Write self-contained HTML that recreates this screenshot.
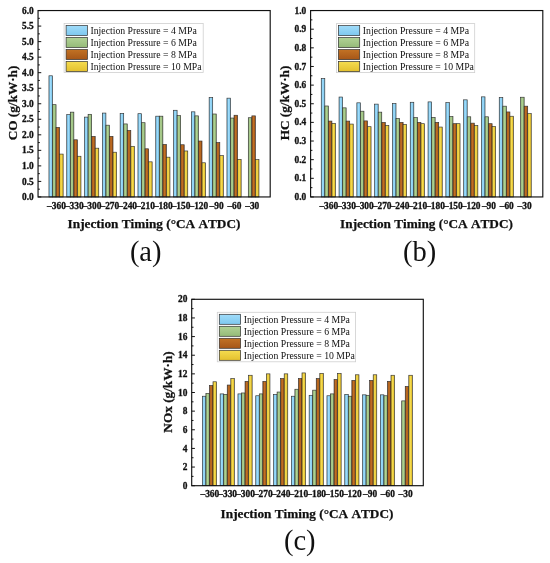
<!DOCTYPE html>
<html><head><meta charset="utf-8"><title>Emissions vs injection timing</title>
<style>html,body{margin:0;padding:0;background:#fff;}body{width:550px;height:563px;overflow:hidden;}svg{display:block;will-change:transform;}text{font-family:"Liberation Serif",serif;fill:#111;opacity:0.999;font-kerning:none;}.tk{font-weight:bold;font-size:9.40px;stroke:#111;stroke-width:0.3px;}.lg{font-size:9.75px;}.ax{font-weight:bold;font-size:13.25px;stroke:#111;stroke-width:0.25px;}.cap{font-size:28.50px;}</style></head><body>
<svg width="550" height="563" viewBox="0 0 550 563">
<defs>
<linearGradient id="gb" x1="0" y1="0" x2="1" y2="0"><stop offset="0" stop-color="#6fc0ea"/><stop offset="0.45" stop-color="#a0dcfa"/><stop offset="1" stop-color="#6fc0ea"/></linearGradient>
<linearGradient id="lb" x1="0" y1="0" x2="0" y2="1"><stop offset="0" stop-color="#a0dcfa"/><stop offset="0.5" stop-color="#8fd2f4"/><stop offset="1" stop-color="#7ec8ef"/></linearGradient>
<linearGradient id="gg" x1="0" y1="0" x2="1" y2="0"><stop offset="0" stop-color="#8ab06c"/><stop offset="0.45" stop-color="#b0d295"/><stop offset="1" stop-color="#8ab06c"/></linearGradient>
<linearGradient id="lg" x1="0" y1="0" x2="0" y2="1"><stop offset="0" stop-color="#b0d295"/><stop offset="0.5" stop-color="#a3c687"/><stop offset="1" stop-color="#95ba78"/></linearGradient>
<linearGradient id="gr" x1="0" y1="0" x2="1" y2="0"><stop offset="0" stop-color="#9a4a12"/><stop offset="0.45" stop-color="#c27224"/><stop offset="1" stop-color="#9a4a12"/></linearGradient>
<linearGradient id="lr" x1="0" y1="0" x2="0" y2="1"><stop offset="0" stop-color="#c27224"/><stop offset="0.5" stop-color="#b4641e"/><stop offset="1" stop-color="#a65617"/></linearGradient>
<linearGradient id="gy" x1="0" y1="0" x2="1" y2="0"><stop offset="0" stop-color="#dcb420"/><stop offset="0.45" stop-color="#f5dc50"/><stop offset="1" stop-color="#dcb420"/></linearGradient>
<linearGradient id="ly" x1="0" y1="0" x2="0" y2="1"><stop offset="0" stop-color="#f5dc50"/><stop offset="0.5" stop-color="#ecce3f"/><stop offset="1" stop-color="#e4c02e"/></linearGradient>
</defs>
<rect x="0" y="0" width="550" height="563" fill="#ffffff"/>
<g id="chart-a">
<rect x="48.95" y="75.79" width="3.55" height="121.16" fill="url(#gb)" stroke="#303030" stroke-width="0.65"/>
<rect x="52.50" y="104.68" width="3.55" height="92.27" fill="url(#gg)" stroke="#303030" stroke-width="0.65"/>
<rect x="56.05" y="127.36" width="3.55" height="69.59" fill="url(#gr)" stroke="#303030" stroke-width="0.65"/>
<rect x="59.60" y="154.08" width="3.55" height="42.87" fill="url(#gy)" stroke="#303030" stroke-width="0.65"/>
<rect x="66.75" y="114.62" width="3.55" height="82.33" fill="url(#gb)" stroke="#303030" stroke-width="0.65"/>
<rect x="70.30" y="112.14" width="3.55" height="84.81" fill="url(#gg)" stroke="#303030" stroke-width="0.65"/>
<rect x="73.85" y="139.79" width="3.55" height="57.16" fill="url(#gr)" stroke="#303030" stroke-width="0.65"/>
<rect x="77.40" y="156.25" width="3.55" height="40.70" fill="url(#gy)" stroke="#303030" stroke-width="0.65"/>
<rect x="84.55" y="117.11" width="3.55" height="79.84" fill="url(#gb)" stroke="#303030" stroke-width="0.65"/>
<rect x="88.10" y="114.31" width="3.55" height="82.64" fill="url(#gg)" stroke="#303030" stroke-width="0.65"/>
<rect x="91.65" y="136.37" width="3.55" height="60.58" fill="url(#gr)" stroke="#303030" stroke-width="0.65"/>
<rect x="95.20" y="148.18" width="3.55" height="48.77" fill="url(#gy)" stroke="#303030" stroke-width="0.65"/>
<rect x="102.35" y="113.07" width="3.55" height="83.88" fill="url(#gb)" stroke="#303030" stroke-width="0.65"/>
<rect x="105.90" y="125.19" width="3.55" height="71.76" fill="url(#gg)" stroke="#303030" stroke-width="0.65"/>
<rect x="109.45" y="136.37" width="3.55" height="60.58" fill="url(#gr)" stroke="#303030" stroke-width="0.65"/>
<rect x="113.00" y="152.21" width="3.55" height="44.74" fill="url(#gy)" stroke="#303030" stroke-width="0.65"/>
<rect x="120.15" y="113.38" width="3.55" height="83.57" fill="url(#gb)" stroke="#303030" stroke-width="0.65"/>
<rect x="123.70" y="123.94" width="3.55" height="73.01" fill="url(#gg)" stroke="#303030" stroke-width="0.65"/>
<rect x="127.25" y="130.47" width="3.55" height="66.48" fill="url(#gr)" stroke="#303030" stroke-width="0.65"/>
<rect x="130.80" y="146.31" width="3.55" height="50.64" fill="url(#gy)" stroke="#303030" stroke-width="0.65"/>
<rect x="137.95" y="113.69" width="3.55" height="83.26" fill="url(#gb)" stroke="#303030" stroke-width="0.65"/>
<rect x="141.50" y="122.70" width="3.55" height="74.25" fill="url(#gg)" stroke="#303030" stroke-width="0.65"/>
<rect x="145.05" y="148.80" width="3.55" height="48.15" fill="url(#gr)" stroke="#303030" stroke-width="0.65"/>
<rect x="148.60" y="161.84" width="3.55" height="35.11" fill="url(#gy)" stroke="#303030" stroke-width="0.65"/>
<rect x="155.75" y="116.18" width="3.55" height="80.77" fill="url(#gb)" stroke="#303030" stroke-width="0.65"/>
<rect x="159.30" y="116.18" width="3.55" height="80.77" fill="url(#gg)" stroke="#303030" stroke-width="0.65"/>
<rect x="162.85" y="144.45" width="3.55" height="52.50" fill="url(#gr)" stroke="#303030" stroke-width="0.65"/>
<rect x="166.40" y="157.18" width="3.55" height="39.77" fill="url(#gy)" stroke="#303030" stroke-width="0.65"/>
<rect x="173.55" y="110.27" width="3.55" height="86.68" fill="url(#gb)" stroke="#303030" stroke-width="0.65"/>
<rect x="177.10" y="115.56" width="3.55" height="81.39" fill="url(#gg)" stroke="#303030" stroke-width="0.65"/>
<rect x="180.65" y="144.76" width="3.55" height="52.19" fill="url(#gr)" stroke="#303030" stroke-width="0.65"/>
<rect x="184.20" y="150.97" width="3.55" height="45.98" fill="url(#gy)" stroke="#303030" stroke-width="0.65"/>
<rect x="191.35" y="111.83" width="3.55" height="85.12" fill="url(#gb)" stroke="#303030" stroke-width="0.65"/>
<rect x="194.90" y="115.87" width="3.55" height="81.08" fill="url(#gg)" stroke="#303030" stroke-width="0.65"/>
<rect x="198.45" y="141.03" width="3.55" height="55.92" fill="url(#gr)" stroke="#303030" stroke-width="0.65"/>
<rect x="202.00" y="162.78" width="3.55" height="34.17" fill="url(#gy)" stroke="#303030" stroke-width="0.65"/>
<rect x="209.15" y="97.54" width="3.55" height="99.41" fill="url(#gb)" stroke="#303030" stroke-width="0.65"/>
<rect x="212.70" y="114.00" width="3.55" height="82.95" fill="url(#gg)" stroke="#303030" stroke-width="0.65"/>
<rect x="216.25" y="142.58" width="3.55" height="54.37" fill="url(#gr)" stroke="#303030" stroke-width="0.65"/>
<rect x="219.80" y="155.63" width="3.55" height="41.32" fill="url(#gy)" stroke="#303030" stroke-width="0.65"/>
<rect x="226.95" y="98.16" width="3.55" height="98.79" fill="url(#gb)" stroke="#303030" stroke-width="0.65"/>
<rect x="230.50" y="118.04" width="3.55" height="78.91" fill="url(#gg)" stroke="#303030" stroke-width="0.65"/>
<rect x="234.05" y="115.24" width="3.55" height="81.71" fill="url(#gr)" stroke="#303030" stroke-width="0.65"/>
<rect x="237.60" y="159.36" width="3.55" height="37.59" fill="url(#gy)" stroke="#303030" stroke-width="0.65"/>
<rect x="248.30" y="117.73" width="3.55" height="79.22" fill="url(#gg)" stroke="#303030" stroke-width="0.65"/>
<rect x="251.85" y="115.87" width="3.55" height="81.08" fill="url(#gr)" stroke="#303030" stroke-width="0.65"/>
<rect x="255.40" y="159.67" width="3.55" height="37.28" fill="url(#gy)" stroke="#303030" stroke-width="0.65"/>
<rect x="38.05" y="10.55" width="232.15" height="186.40" fill="none" stroke="#111" stroke-width="1.15"/>
<line x1="38.05" y1="196.95" x2="41.25" y2="196.95" stroke="#111" stroke-width="1.0"/>
<text class="tk" x="33.75" y="200.05" text-anchor="end">0.0</text>
<line x1="38.05" y1="189.18" x2="39.85" y2="189.18" stroke="#111" stroke-width="1.0"/>
<line x1="38.05" y1="181.42" x2="41.25" y2="181.42" stroke="#111" stroke-width="1.0"/>
<text class="tk" x="33.75" y="184.52" text-anchor="end">0.5</text>
<line x1="38.05" y1="173.65" x2="39.85" y2="173.65" stroke="#111" stroke-width="1.0"/>
<line x1="38.05" y1="165.88" x2="41.25" y2="165.88" stroke="#111" stroke-width="1.0"/>
<text class="tk" x="33.75" y="168.98" text-anchor="end">1.0</text>
<line x1="38.05" y1="158.12" x2="39.85" y2="158.12" stroke="#111" stroke-width="1.0"/>
<line x1="38.05" y1="150.35" x2="41.25" y2="150.35" stroke="#111" stroke-width="1.0"/>
<text class="tk" x="33.75" y="153.45" text-anchor="end">1.5</text>
<line x1="38.05" y1="142.58" x2="39.85" y2="142.58" stroke="#111" stroke-width="1.0"/>
<line x1="38.05" y1="134.82" x2="41.25" y2="134.82" stroke="#111" stroke-width="1.0"/>
<text class="tk" x="33.75" y="137.92" text-anchor="end">2.0</text>
<line x1="38.05" y1="127.05" x2="39.85" y2="127.05" stroke="#111" stroke-width="1.0"/>
<line x1="38.05" y1="119.28" x2="41.25" y2="119.28" stroke="#111" stroke-width="1.0"/>
<text class="tk" x="33.75" y="122.38" text-anchor="end">2.5</text>
<line x1="38.05" y1="111.52" x2="39.85" y2="111.52" stroke="#111" stroke-width="1.0"/>
<line x1="38.05" y1="103.75" x2="41.25" y2="103.75" stroke="#111" stroke-width="1.0"/>
<text class="tk" x="33.75" y="106.85" text-anchor="end">3.0</text>
<line x1="38.05" y1="95.98" x2="39.85" y2="95.98" stroke="#111" stroke-width="1.0"/>
<line x1="38.05" y1="88.22" x2="41.25" y2="88.22" stroke="#111" stroke-width="1.0"/>
<text class="tk" x="33.75" y="91.32" text-anchor="end">3.5</text>
<line x1="38.05" y1="80.45" x2="39.85" y2="80.45" stroke="#111" stroke-width="1.0"/>
<line x1="38.05" y1="72.68" x2="41.25" y2="72.68" stroke="#111" stroke-width="1.0"/>
<text class="tk" x="33.75" y="75.78" text-anchor="end">4.0</text>
<line x1="38.05" y1="64.92" x2="39.85" y2="64.92" stroke="#111" stroke-width="1.0"/>
<line x1="38.05" y1="57.15" x2="41.25" y2="57.15" stroke="#111" stroke-width="1.0"/>
<text class="tk" x="33.75" y="60.25" text-anchor="end">4.5</text>
<line x1="38.05" y1="49.38" x2="39.85" y2="49.38" stroke="#111" stroke-width="1.0"/>
<line x1="38.05" y1="41.62" x2="41.25" y2="41.62" stroke="#111" stroke-width="1.0"/>
<text class="tk" x="33.75" y="44.72" text-anchor="end">5.0</text>
<line x1="38.05" y1="33.85" x2="39.85" y2="33.85" stroke="#111" stroke-width="1.0"/>
<line x1="38.05" y1="26.08" x2="41.25" y2="26.08" stroke="#111" stroke-width="1.0"/>
<text class="tk" x="33.75" y="29.18" text-anchor="end">5.5</text>
<line x1="38.05" y1="18.32" x2="39.85" y2="18.32" stroke="#111" stroke-width="1.0"/>
<line x1="38.05" y1="10.55" x2="41.25" y2="10.55" stroke="#111" stroke-width="1.0"/>
<text class="tk" x="33.75" y="13.65" text-anchor="end">6.0</text>
<text class="tk" x="56.45" y="208.60" text-anchor="middle">–360</text>
<text class="tk" x="74.25" y="208.60" text-anchor="middle">–330</text>
<text class="tk" x="92.05" y="208.60" text-anchor="middle">–300</text>
<text class="tk" x="109.85" y="208.60" text-anchor="middle">–270</text>
<text class="tk" x="127.65" y="208.60" text-anchor="middle">–240</text>
<text class="tk" x="145.45" y="208.60" text-anchor="middle">–210</text>
<text class="tk" x="163.25" y="208.60" text-anchor="middle">–180</text>
<text class="tk" x="181.05" y="208.60" text-anchor="middle">–150</text>
<text class="tk" x="198.85" y="208.60" text-anchor="middle">–120</text>
<text class="tk" x="216.65" y="208.60" text-anchor="middle">–90</text>
<text class="tk" x="234.45" y="208.60" text-anchor="middle">–60</text>
<text class="tk" x="252.25" y="208.60" text-anchor="middle">–30</text>
<text class="ax" x="154.00" y="228.30" text-anchor="middle">Injection Timing (°CA ATDC)</text>
<text class="ax" transform="translate(17.30 103.00) rotate(-90)" text-anchor="middle">CO (g/kW·h)</text>
<rect x="64.10" y="23.50" width="139.10" height="49.00" fill="#ffffff" stroke="#cfcfcf" stroke-width="0.8"/>
<rect x="66.10" y="25.50" width="21.30" height="10.00" fill="url(#lb)" stroke="#303030" stroke-width="0.7"/>
<text class="lg" x="90.50" y="33.80">Injection Pressure = 4 MPa</text>
<rect x="66.10" y="37.50" width="21.30" height="10.00" fill="url(#lg)" stroke="#303030" stroke-width="0.7"/>
<text class="lg" x="90.50" y="45.80">Injection Pressure = 6 MPa</text>
<rect x="66.10" y="49.50" width="21.30" height="10.00" fill="url(#lr)" stroke="#303030" stroke-width="0.7"/>
<text class="lg" x="90.50" y="57.80">Injection Pressure = 8 MPa</text>
<rect x="66.10" y="61.50" width="21.30" height="10.00" fill="url(#ly)" stroke="#303030" stroke-width="0.7"/>
<text class="lg" x="90.50" y="69.80">Injection Pressure = 10 MPa</text>
<text class="cap" x="145.70" y="260.50" text-anchor="middle">(a)</text>
</g>
<g id="chart-b">
<rect x="321.25" y="78.59" width="3.55" height="118.36" fill="url(#gb)" stroke="#303030" stroke-width="0.65"/>
<rect x="324.80" y="105.99" width="3.55" height="90.96" fill="url(#gg)" stroke="#303030" stroke-width="0.65"/>
<rect x="328.35" y="121.09" width="3.55" height="75.86" fill="url(#gr)" stroke="#303030" stroke-width="0.65"/>
<rect x="331.90" y="123.32" width="3.55" height="73.63" fill="url(#gy)" stroke="#303030" stroke-width="0.65"/>
<rect x="339.05" y="97.04" width="3.55" height="99.91" fill="url(#gb)" stroke="#303030" stroke-width="0.65"/>
<rect x="342.60" y="107.85" width="3.55" height="89.10" fill="url(#gg)" stroke="#303030" stroke-width="0.65"/>
<rect x="346.15" y="121.09" width="3.55" height="75.86" fill="url(#gr)" stroke="#303030" stroke-width="0.65"/>
<rect x="349.70" y="124.07" width="3.55" height="72.88" fill="url(#gy)" stroke="#303030" stroke-width="0.65"/>
<rect x="356.85" y="102.82" width="3.55" height="94.13" fill="url(#gb)" stroke="#303030" stroke-width="0.65"/>
<rect x="360.40" y="111.21" width="3.55" height="85.74" fill="url(#gg)" stroke="#303030" stroke-width="0.65"/>
<rect x="363.95" y="120.90" width="3.55" height="76.05" fill="url(#gr)" stroke="#303030" stroke-width="0.65"/>
<rect x="367.50" y="126.68" width="3.55" height="70.27" fill="url(#gy)" stroke="#303030" stroke-width="0.65"/>
<rect x="374.65" y="104.12" width="3.55" height="92.83" fill="url(#gb)" stroke="#303030" stroke-width="0.65"/>
<rect x="378.20" y="112.14" width="3.55" height="84.81" fill="url(#gg)" stroke="#303030" stroke-width="0.65"/>
<rect x="381.75" y="122.39" width="3.55" height="74.56" fill="url(#gr)" stroke="#303030" stroke-width="0.65"/>
<rect x="385.30" y="125.37" width="3.55" height="71.58" fill="url(#gy)" stroke="#303030" stroke-width="0.65"/>
<rect x="392.45" y="103.56" width="3.55" height="93.39" fill="url(#gb)" stroke="#303030" stroke-width="0.65"/>
<rect x="396.00" y="118.48" width="3.55" height="78.47" fill="url(#gg)" stroke="#303030" stroke-width="0.65"/>
<rect x="399.55" y="122.39" width="3.55" height="74.56" fill="url(#gr)" stroke="#303030" stroke-width="0.65"/>
<rect x="403.10" y="124.44" width="3.55" height="72.51" fill="url(#gy)" stroke="#303030" stroke-width="0.65"/>
<rect x="410.25" y="102.26" width="3.55" height="94.69" fill="url(#gb)" stroke="#303030" stroke-width="0.65"/>
<rect x="413.80" y="117.54" width="3.55" height="79.41" fill="url(#gg)" stroke="#303030" stroke-width="0.65"/>
<rect x="417.35" y="122.39" width="3.55" height="74.56" fill="url(#gr)" stroke="#303030" stroke-width="0.65"/>
<rect x="420.90" y="123.69" width="3.55" height="73.26" fill="url(#gy)" stroke="#303030" stroke-width="0.65"/>
<rect x="428.05" y="101.89" width="3.55" height="95.06" fill="url(#gb)" stroke="#303030" stroke-width="0.65"/>
<rect x="431.60" y="117.36" width="3.55" height="79.59" fill="url(#gg)" stroke="#303030" stroke-width="0.65"/>
<rect x="435.15" y="122.39" width="3.55" height="74.56" fill="url(#gr)" stroke="#303030" stroke-width="0.65"/>
<rect x="438.70" y="127.05" width="3.55" height="69.90" fill="url(#gy)" stroke="#303030" stroke-width="0.65"/>
<rect x="445.85" y="102.63" width="3.55" height="94.32" fill="url(#gb)" stroke="#303030" stroke-width="0.65"/>
<rect x="449.40" y="116.61" width="3.55" height="80.34" fill="url(#gg)" stroke="#303030" stroke-width="0.65"/>
<rect x="452.95" y="123.69" width="3.55" height="73.26" fill="url(#gr)" stroke="#303030" stroke-width="0.65"/>
<rect x="456.50" y="123.69" width="3.55" height="73.26" fill="url(#gy)" stroke="#303030" stroke-width="0.65"/>
<rect x="463.65" y="99.84" width="3.55" height="97.11" fill="url(#gb)" stroke="#303030" stroke-width="0.65"/>
<rect x="467.20" y="116.80" width="3.55" height="80.15" fill="url(#gg)" stroke="#303030" stroke-width="0.65"/>
<rect x="470.75" y="123.14" width="3.55" height="73.81" fill="url(#gr)" stroke="#303030" stroke-width="0.65"/>
<rect x="474.30" y="125.56" width="3.55" height="71.39" fill="url(#gy)" stroke="#303030" stroke-width="0.65"/>
<rect x="481.45" y="96.85" width="3.55" height="100.10" fill="url(#gb)" stroke="#303030" stroke-width="0.65"/>
<rect x="485.00" y="116.80" width="3.55" height="80.15" fill="url(#gg)" stroke="#303030" stroke-width="0.65"/>
<rect x="488.55" y="123.69" width="3.55" height="73.26" fill="url(#gr)" stroke="#303030" stroke-width="0.65"/>
<rect x="492.10" y="126.49" width="3.55" height="70.46" fill="url(#gy)" stroke="#303030" stroke-width="0.65"/>
<rect x="499.25" y="97.60" width="3.55" height="99.35" fill="url(#gb)" stroke="#303030" stroke-width="0.65"/>
<rect x="502.80" y="106.17" width="3.55" height="90.78" fill="url(#gg)" stroke="#303030" stroke-width="0.65"/>
<rect x="506.35" y="111.95" width="3.55" height="85.00" fill="url(#gr)" stroke="#303030" stroke-width="0.65"/>
<rect x="509.90" y="116.24" width="3.55" height="80.71" fill="url(#gy)" stroke="#303030" stroke-width="0.65"/>
<rect x="520.60" y="97.23" width="3.55" height="99.72" fill="url(#gg)" stroke="#303030" stroke-width="0.65"/>
<rect x="524.15" y="106.17" width="3.55" height="90.78" fill="url(#gr)" stroke="#303030" stroke-width="0.65"/>
<rect x="527.70" y="113.63" width="3.55" height="83.32" fill="url(#gy)" stroke="#303030" stroke-width="0.65"/>
<rect x="310.60" y="10.55" width="232.20" height="186.40" fill="none" stroke="#111" stroke-width="1.15"/>
<line x1="310.60" y1="196.95" x2="313.80" y2="196.95" stroke="#111" stroke-width="1.0"/>
<text class="tk" x="306.30" y="200.05" text-anchor="end">0.0</text>
<line x1="310.60" y1="187.63" x2="312.40" y2="187.63" stroke="#111" stroke-width="1.0"/>
<line x1="310.60" y1="178.31" x2="313.80" y2="178.31" stroke="#111" stroke-width="1.0"/>
<text class="tk" x="306.30" y="181.41" text-anchor="end">0.1</text>
<line x1="310.60" y1="168.99" x2="312.40" y2="168.99" stroke="#111" stroke-width="1.0"/>
<line x1="310.60" y1="159.67" x2="313.80" y2="159.67" stroke="#111" stroke-width="1.0"/>
<text class="tk" x="306.30" y="162.77" text-anchor="end">0.2</text>
<line x1="310.60" y1="150.35" x2="312.40" y2="150.35" stroke="#111" stroke-width="1.0"/>
<line x1="310.60" y1="141.03" x2="313.80" y2="141.03" stroke="#111" stroke-width="1.0"/>
<text class="tk" x="306.30" y="144.13" text-anchor="end">0.3</text>
<line x1="310.60" y1="131.71" x2="312.40" y2="131.71" stroke="#111" stroke-width="1.0"/>
<line x1="310.60" y1="122.39" x2="313.80" y2="122.39" stroke="#111" stroke-width="1.0"/>
<text class="tk" x="306.30" y="125.49" text-anchor="end">0.4</text>
<line x1="310.60" y1="113.07" x2="312.40" y2="113.07" stroke="#111" stroke-width="1.0"/>
<line x1="310.60" y1="103.75" x2="313.80" y2="103.75" stroke="#111" stroke-width="1.0"/>
<text class="tk" x="306.30" y="106.85" text-anchor="end">0.5</text>
<line x1="310.60" y1="94.43" x2="312.40" y2="94.43" stroke="#111" stroke-width="1.0"/>
<line x1="310.60" y1="85.11" x2="313.80" y2="85.11" stroke="#111" stroke-width="1.0"/>
<text class="tk" x="306.30" y="88.21" text-anchor="end">0.6</text>
<line x1="310.60" y1="75.79" x2="312.40" y2="75.79" stroke="#111" stroke-width="1.0"/>
<line x1="310.60" y1="66.47" x2="313.80" y2="66.47" stroke="#111" stroke-width="1.0"/>
<text class="tk" x="306.30" y="69.57" text-anchor="end">0.7</text>
<line x1="310.60" y1="57.15" x2="312.40" y2="57.15" stroke="#111" stroke-width="1.0"/>
<line x1="310.60" y1="47.83" x2="313.80" y2="47.83" stroke="#111" stroke-width="1.0"/>
<text class="tk" x="306.30" y="50.93" text-anchor="end">0.8</text>
<line x1="310.60" y1="38.51" x2="312.40" y2="38.51" stroke="#111" stroke-width="1.0"/>
<line x1="310.60" y1="29.19" x2="313.80" y2="29.19" stroke="#111" stroke-width="1.0"/>
<text class="tk" x="306.30" y="32.29" text-anchor="end">0.9</text>
<line x1="310.60" y1="19.87" x2="312.40" y2="19.87" stroke="#111" stroke-width="1.0"/>
<line x1="310.60" y1="10.55" x2="313.80" y2="10.55" stroke="#111" stroke-width="1.0"/>
<text class="tk" x="306.30" y="13.65" text-anchor="end">1.0</text>
<text class="tk" x="328.75" y="208.60" text-anchor="middle">–360</text>
<text class="tk" x="346.55" y="208.60" text-anchor="middle">–330</text>
<text class="tk" x="364.35" y="208.60" text-anchor="middle">–300</text>
<text class="tk" x="382.15" y="208.60" text-anchor="middle">–270</text>
<text class="tk" x="399.95" y="208.60" text-anchor="middle">–240</text>
<text class="tk" x="417.75" y="208.60" text-anchor="middle">–210</text>
<text class="tk" x="435.55" y="208.60" text-anchor="middle">–180</text>
<text class="tk" x="453.35" y="208.60" text-anchor="middle">–150</text>
<text class="tk" x="471.15" y="208.60" text-anchor="middle">–120</text>
<text class="tk" x="488.95" y="208.60" text-anchor="middle">–90</text>
<text class="tk" x="506.75" y="208.60" text-anchor="middle">–60</text>
<text class="tk" x="524.55" y="208.60" text-anchor="middle">–30</text>
<text class="ax" x="426.50" y="228.30" text-anchor="middle">Injection Timing (°CA ATDC)</text>
<text class="ax" transform="translate(289.30 103.00) rotate(-90)" text-anchor="middle">HC (g/kW·h)</text>
<rect x="336.40" y="23.60" width="138.30" height="49.00" fill="#ffffff" stroke="#cfcfcf" stroke-width="0.8"/>
<rect x="338.40" y="25.60" width="21.30" height="10.00" fill="url(#lb)" stroke="#303030" stroke-width="0.7"/>
<text class="lg" x="362.80" y="33.90">Injection Pressure = 4 MPa</text>
<rect x="338.40" y="37.60" width="21.30" height="10.00" fill="url(#lg)" stroke="#303030" stroke-width="0.7"/>
<text class="lg" x="362.80" y="45.90">Injection Pressure = 6 MPa</text>
<rect x="338.40" y="49.60" width="21.30" height="10.00" fill="url(#lr)" stroke="#303030" stroke-width="0.7"/>
<text class="lg" x="362.80" y="57.90">Injection Pressure = 8 MPa</text>
<rect x="338.40" y="61.60" width="21.30" height="10.00" fill="url(#ly)" stroke="#303030" stroke-width="0.7"/>
<text class="lg" x="362.80" y="69.90">Injection Pressure = 10 MPa</text>
<text class="cap" x="419.60" y="260.50" text-anchor="middle">(b)</text>
</g>
<g id="chart-c">
<rect x="202.35" y="396.23" width="3.55" height="89.47" fill="url(#gb)" stroke="#303030" stroke-width="0.65"/>
<rect x="205.90" y="393.43" width="3.55" height="92.27" fill="url(#gg)" stroke="#303030" stroke-width="0.65"/>
<rect x="209.45" y="385.51" width="3.55" height="100.19" fill="url(#gr)" stroke="#303030" stroke-width="0.65"/>
<rect x="213.00" y="381.78" width="3.55" height="103.92" fill="url(#gy)" stroke="#303030" stroke-width="0.65"/>
<rect x="220.15" y="393.90" width="3.55" height="91.80" fill="url(#gb)" stroke="#303030" stroke-width="0.65"/>
<rect x="223.70" y="394.36" width="3.55" height="91.34" fill="url(#gg)" stroke="#303030" stroke-width="0.65"/>
<rect x="227.25" y="385.04" width="3.55" height="100.66" fill="url(#gr)" stroke="#303030" stroke-width="0.65"/>
<rect x="230.80" y="378.52" width="3.55" height="107.18" fill="url(#gy)" stroke="#303030" stroke-width="0.65"/>
<rect x="237.95" y="393.90" width="3.55" height="91.80" fill="url(#gb)" stroke="#303030" stroke-width="0.65"/>
<rect x="241.50" y="392.97" width="3.55" height="92.73" fill="url(#gg)" stroke="#303030" stroke-width="0.65"/>
<rect x="245.05" y="381.32" width="3.55" height="104.38" fill="url(#gr)" stroke="#303030" stroke-width="0.65"/>
<rect x="248.60" y="375.26" width="3.55" height="110.44" fill="url(#gy)" stroke="#303030" stroke-width="0.65"/>
<rect x="255.75" y="395.76" width="3.55" height="89.94" fill="url(#gb)" stroke="#303030" stroke-width="0.65"/>
<rect x="259.30" y="393.90" width="3.55" height="91.80" fill="url(#gg)" stroke="#303030" stroke-width="0.65"/>
<rect x="262.85" y="381.32" width="3.55" height="104.38" fill="url(#gr)" stroke="#303030" stroke-width="0.65"/>
<rect x="266.40" y="373.86" width="3.55" height="111.84" fill="url(#gy)" stroke="#303030" stroke-width="0.65"/>
<rect x="273.55" y="394.36" width="3.55" height="91.34" fill="url(#gb)" stroke="#303030" stroke-width="0.65"/>
<rect x="277.10" y="392.03" width="3.55" height="93.67" fill="url(#gg)" stroke="#303030" stroke-width="0.65"/>
<rect x="280.65" y="378.52" width="3.55" height="107.18" fill="url(#gr)" stroke="#303030" stroke-width="0.65"/>
<rect x="284.20" y="373.86" width="3.55" height="111.84" fill="url(#gy)" stroke="#303030" stroke-width="0.65"/>
<rect x="291.35" y="396.23" width="3.55" height="89.47" fill="url(#gb)" stroke="#303030" stroke-width="0.65"/>
<rect x="294.90" y="389.24" width="3.55" height="96.46" fill="url(#gg)" stroke="#303030" stroke-width="0.65"/>
<rect x="298.45" y="378.52" width="3.55" height="107.18" fill="url(#gr)" stroke="#303030" stroke-width="0.65"/>
<rect x="302.00" y="372.93" width="3.55" height="112.77" fill="url(#gy)" stroke="#303030" stroke-width="0.65"/>
<rect x="309.15" y="395.30" width="3.55" height="90.40" fill="url(#gb)" stroke="#303030" stroke-width="0.65"/>
<rect x="312.70" y="390.17" width="3.55" height="95.53" fill="url(#gg)" stroke="#303030" stroke-width="0.65"/>
<rect x="316.25" y="378.52" width="3.55" height="107.18" fill="url(#gr)" stroke="#303030" stroke-width="0.65"/>
<rect x="319.80" y="373.39" width="3.55" height="112.31" fill="url(#gy)" stroke="#303030" stroke-width="0.65"/>
<rect x="326.95" y="395.76" width="3.55" height="89.94" fill="url(#gb)" stroke="#303030" stroke-width="0.65"/>
<rect x="330.50" y="393.90" width="3.55" height="91.80" fill="url(#gg)" stroke="#303030" stroke-width="0.65"/>
<rect x="334.05" y="379.45" width="3.55" height="106.25" fill="url(#gr)" stroke="#303030" stroke-width="0.65"/>
<rect x="337.60" y="373.39" width="3.55" height="112.31" fill="url(#gy)" stroke="#303030" stroke-width="0.65"/>
<rect x="344.75" y="394.36" width="3.55" height="91.34" fill="url(#gb)" stroke="#303030" stroke-width="0.65"/>
<rect x="348.30" y="396.23" width="3.55" height="89.47" fill="url(#gg)" stroke="#303030" stroke-width="0.65"/>
<rect x="351.85" y="380.38" width="3.55" height="105.32" fill="url(#gr)" stroke="#303030" stroke-width="0.65"/>
<rect x="355.40" y="374.79" width="3.55" height="110.91" fill="url(#gy)" stroke="#303030" stroke-width="0.65"/>
<rect x="362.55" y="394.83" width="3.55" height="90.87" fill="url(#gb)" stroke="#303030" stroke-width="0.65"/>
<rect x="366.10" y="395.30" width="3.55" height="90.40" fill="url(#gg)" stroke="#303030" stroke-width="0.65"/>
<rect x="369.65" y="380.38" width="3.55" height="105.32" fill="url(#gr)" stroke="#303030" stroke-width="0.65"/>
<rect x="373.20" y="374.79" width="3.55" height="110.91" fill="url(#gy)" stroke="#303030" stroke-width="0.65"/>
<rect x="380.35" y="394.83" width="3.55" height="90.87" fill="url(#gb)" stroke="#303030" stroke-width="0.65"/>
<rect x="383.90" y="395.76" width="3.55" height="89.94" fill="url(#gg)" stroke="#303030" stroke-width="0.65"/>
<rect x="387.45" y="381.32" width="3.55" height="104.38" fill="url(#gr)" stroke="#303030" stroke-width="0.65"/>
<rect x="391.00" y="375.26" width="3.55" height="110.44" fill="url(#gy)" stroke="#303030" stroke-width="0.65"/>
<rect x="401.70" y="400.89" width="3.55" height="84.81" fill="url(#gg)" stroke="#303030" stroke-width="0.65"/>
<rect x="405.25" y="386.44" width="3.55" height="99.26" fill="url(#gr)" stroke="#303030" stroke-width="0.65"/>
<rect x="408.80" y="375.26" width="3.55" height="110.44" fill="url(#gy)" stroke="#303030" stroke-width="0.65"/>
<rect x="191.70" y="299.30" width="231.60" height="186.40" fill="none" stroke="#111" stroke-width="1.15"/>
<line x1="191.70" y1="485.70" x2="194.90" y2="485.70" stroke="#111" stroke-width="1.0"/>
<text class="tk" x="187.40" y="488.80" text-anchor="end">0</text>
<line x1="191.70" y1="476.38" x2="193.50" y2="476.38" stroke="#111" stroke-width="1.0"/>
<line x1="191.70" y1="467.06" x2="194.90" y2="467.06" stroke="#111" stroke-width="1.0"/>
<text class="tk" x="187.40" y="470.16" text-anchor="end">2</text>
<line x1="191.70" y1="457.74" x2="193.50" y2="457.74" stroke="#111" stroke-width="1.0"/>
<line x1="191.70" y1="448.42" x2="194.90" y2="448.42" stroke="#111" stroke-width="1.0"/>
<text class="tk" x="187.40" y="451.52" text-anchor="end">4</text>
<line x1="191.70" y1="439.10" x2="193.50" y2="439.10" stroke="#111" stroke-width="1.0"/>
<line x1="191.70" y1="429.78" x2="194.90" y2="429.78" stroke="#111" stroke-width="1.0"/>
<text class="tk" x="187.40" y="432.88" text-anchor="end">6</text>
<line x1="191.70" y1="420.46" x2="193.50" y2="420.46" stroke="#111" stroke-width="1.0"/>
<line x1="191.70" y1="411.14" x2="194.90" y2="411.14" stroke="#111" stroke-width="1.0"/>
<text class="tk" x="187.40" y="414.24" text-anchor="end">8</text>
<line x1="191.70" y1="401.82" x2="193.50" y2="401.82" stroke="#111" stroke-width="1.0"/>
<line x1="191.70" y1="392.50" x2="194.90" y2="392.50" stroke="#111" stroke-width="1.0"/>
<text class="tk" x="187.40" y="395.60" text-anchor="end">10</text>
<line x1="191.70" y1="383.18" x2="193.50" y2="383.18" stroke="#111" stroke-width="1.0"/>
<line x1="191.70" y1="373.86" x2="194.90" y2="373.86" stroke="#111" stroke-width="1.0"/>
<text class="tk" x="187.40" y="376.96" text-anchor="end">12</text>
<line x1="191.70" y1="364.54" x2="193.50" y2="364.54" stroke="#111" stroke-width="1.0"/>
<line x1="191.70" y1="355.22" x2="194.90" y2="355.22" stroke="#111" stroke-width="1.0"/>
<text class="tk" x="187.40" y="358.32" text-anchor="end">14</text>
<line x1="191.70" y1="345.90" x2="193.50" y2="345.90" stroke="#111" stroke-width="1.0"/>
<line x1="191.70" y1="336.58" x2="194.90" y2="336.58" stroke="#111" stroke-width="1.0"/>
<text class="tk" x="187.40" y="339.68" text-anchor="end">16</text>
<line x1="191.70" y1="327.26" x2="193.50" y2="327.26" stroke="#111" stroke-width="1.0"/>
<line x1="191.70" y1="317.94" x2="194.90" y2="317.94" stroke="#111" stroke-width="1.0"/>
<text class="tk" x="187.40" y="321.04" text-anchor="end">18</text>
<line x1="191.70" y1="308.62" x2="193.50" y2="308.62" stroke="#111" stroke-width="1.0"/>
<line x1="191.70" y1="299.30" x2="194.90" y2="299.30" stroke="#111" stroke-width="1.0"/>
<text class="tk" x="187.40" y="302.40" text-anchor="end">20</text>
<text class="tk" x="209.85" y="497.40" text-anchor="middle">–360</text>
<text class="tk" x="227.65" y="497.40" text-anchor="middle">–330</text>
<text class="tk" x="245.45" y="497.40" text-anchor="middle">–300</text>
<text class="tk" x="263.25" y="497.40" text-anchor="middle">–270</text>
<text class="tk" x="281.05" y="497.40" text-anchor="middle">–240</text>
<text class="tk" x="298.85" y="497.40" text-anchor="middle">–210</text>
<text class="tk" x="316.65" y="497.40" text-anchor="middle">–180</text>
<text class="tk" x="334.45" y="497.40" text-anchor="middle">–150</text>
<text class="tk" x="352.25" y="497.40" text-anchor="middle">–120</text>
<text class="tk" x="370.05" y="497.40" text-anchor="middle">–90</text>
<text class="tk" x="387.85" y="497.40" text-anchor="middle">–60</text>
<text class="tk" x="405.65" y="497.40" text-anchor="middle">–30</text>
<text class="ax" x="307.00" y="517.70" text-anchor="middle">Injection Timing (°CA ATDC)</text>
<text class="ax" transform="translate(172.20 392.00) rotate(-90)" text-anchor="middle">NOx (g/kW·h)</text>
<rect x="217.30" y="312.30" width="138.30" height="49.50" fill="#ffffff" stroke="#cfcfcf" stroke-width="0.8"/>
<rect x="219.30" y="314.30" width="21.30" height="10.00" fill="url(#lb)" stroke="#303030" stroke-width="0.7"/>
<text class="lg" x="243.70" y="322.60">Injection Pressure = 4 MPa</text>
<rect x="219.30" y="326.30" width="21.30" height="10.00" fill="url(#lg)" stroke="#303030" stroke-width="0.7"/>
<text class="lg" x="243.70" y="334.60">Injection Pressure = 6 MPa</text>
<rect x="219.30" y="338.30" width="21.30" height="10.00" fill="url(#lr)" stroke="#303030" stroke-width="0.7"/>
<text class="lg" x="243.70" y="346.60">Injection Pressure = 8 MPa</text>
<rect x="219.30" y="350.30" width="21.30" height="10.00" fill="url(#ly)" stroke="#303030" stroke-width="0.7"/>
<text class="lg" x="243.70" y="358.60">Injection Pressure = 10 MPa</text>
<text class="cap" x="299.80" y="550.20" text-anchor="middle">(c)</text>
</g>
</svg></body></html>
